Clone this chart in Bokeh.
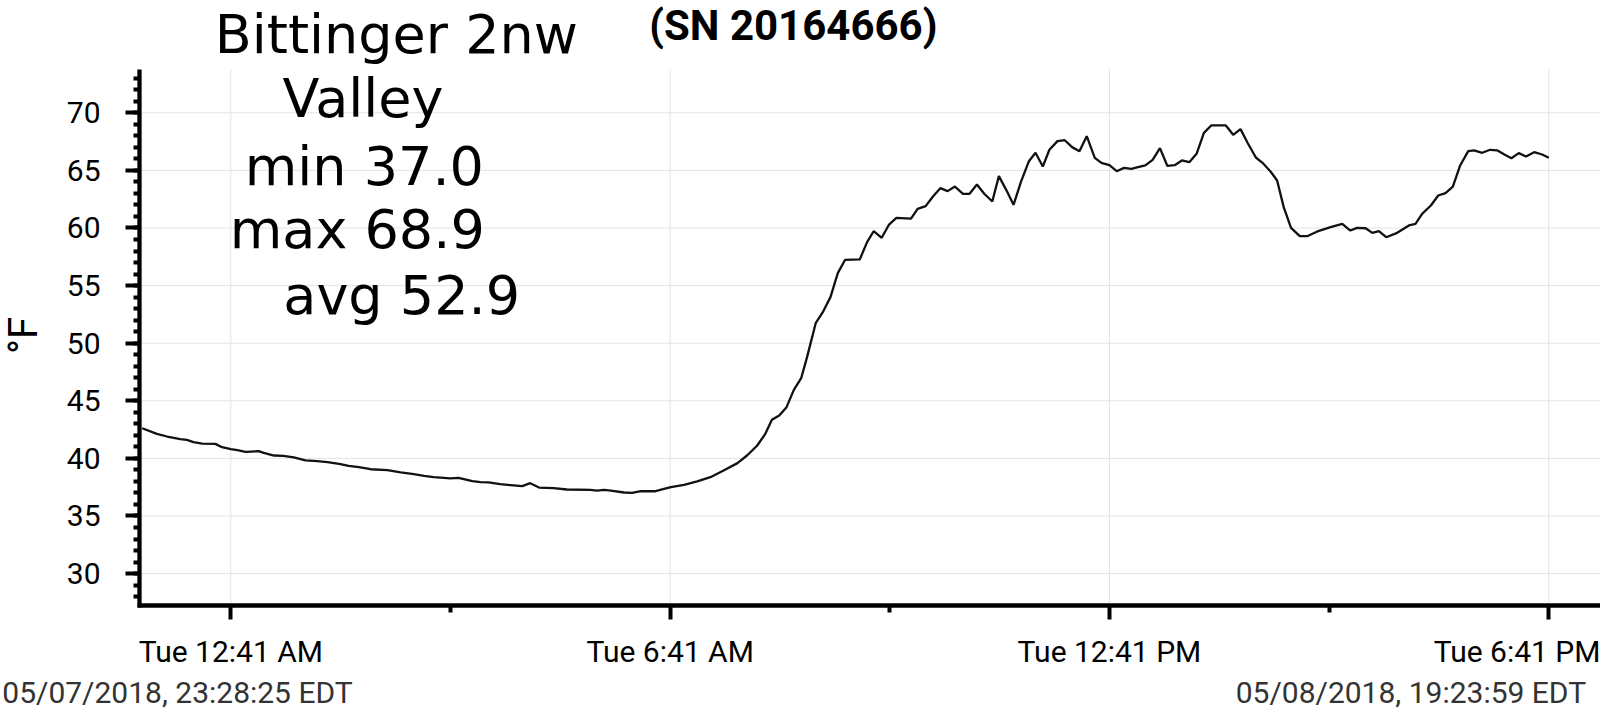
import math
from bokeh.plotting import figure
from bokeh.models import Range1d, FixedTicker, Label
from bokeh.embed import file_html
from bokeh.resources import INLINE

# ---- data (hours relative to "Tue 12:41 AM", temperature in °F) ----
hours = [
    -1.21, -1.01, -0.87, -0.69, -0.60, -0.51, -0.39, -0.21, -0.12, 0.00,
    0.09, 0.20, 0.38, 0.45, 0.59, 0.72, 0.86, 1.02, 1.18, 1.32,
    1.48, 1.61, 1.75, 1.91, 2.14, 2.32, 2.50, 2.64, 2.77, 3.00,
    3.11, 3.30, 3.41, 3.52, 3.68, 3.82, 3.98, 4.09, 4.21, 4.41,
    4.59, 4.91, 5.00, 5.10, 5.19, 5.37, 5.48, 5.60, 5.80, 6.01,
    6.19, 6.37, 6.55, 6.73, 6.92, 7.05, 7.19, 7.30, 7.39, 7.49,
    7.59, 7.69, 7.79, 7.87, 7.99, 8.09, 8.19, 8.29, 8.39, 8.59,
    8.69, 8.78, 8.89, 8.99, 9.09, 9.29, 9.38, 9.49, 9.59, 9.69,
    9.79, 9.89, 10.00, 10.09, 10.19, 10.29, 10.40, 10.49, 10.59, 10.69,
    10.79, 10.90, 10.99, 11.09, 11.18, 11.29, 11.39, 11.49, 11.59, 11.69,
    11.80, 11.89, 12.00, 12.10, 12.20, 12.30, 12.39, 12.49, 12.59, 12.69,
    12.79, 12.89, 12.99, 13.09, 13.19, 13.29, 13.39, 13.49, 13.59, 13.69,
    13.79, 13.89, 14.00, 14.09, 14.20, 14.29, 14.38, 14.48, 14.60, 14.70,
    14.84, 15.02, 15.18, 15.29, 15.38, 15.50, 15.59, 15.68, 15.78, 15.93,
    16.09, 16.18, 16.27, 16.39, 16.49, 16.59, 16.69, 16.79, 16.90, 16.98,
    17.09, 17.20, 17.30, 17.40, 17.49, 17.59, 17.69, 17.80, 17.91, 18.00,
]
temps_f = [
    42.62, 42.13, 41.90, 41.67, 41.61, 41.41, 41.29, 41.26, 40.97, 40.80,
    40.71, 40.57, 40.63, 40.48, 40.25, 40.22, 40.08, 39.82, 39.76, 39.67,
    39.53, 39.35, 39.24, 39.06, 38.98, 38.78, 38.63, 38.49, 38.37, 38.26,
    38.31, 38.02, 37.94, 37.91, 37.76, 37.68, 37.59, 37.85, 37.47, 37.42,
    37.30, 37.27, 37.21, 37.27, 37.21, 37.04, 37.00, 37.15, 37.15, 37.50,
    37.71, 38.00, 38.37, 38.95, 39.59, 40.25, 41.12, 42.13, 43.35, 43.72,
    44.45, 45.95, 46.96, 48.79, 51.77, 52.75, 54.00, 56.08, 57.24, 57.27,
    58.77, 59.72, 59.15, 60.30, 60.88, 60.82, 61.66, 61.90, 62.73, 63.46,
    63.20, 63.60, 62.97, 62.97, 63.78, 62.97, 62.30, 64.50, 63.31, 62.01,
    63.98, 65.80, 66.53, 65.34, 66.79, 67.54, 67.62, 67.02, 66.67, 67.97,
    66.09, 65.66, 65.45, 64.93, 65.22, 65.14, 65.28, 65.43, 65.92, 66.93,
    65.40, 65.45, 65.86, 65.71, 66.44, 68.26, 68.90, 68.90, 68.90, 68.09,
    68.58, 67.36, 66.12, 65.66, 64.90, 64.12, 61.81, 60.01, 59.29, 59.29,
    59.70, 60.07, 60.36, 59.78, 60.01, 59.98, 59.58, 59.73, 59.20, 59.58,
    60.22, 60.36, 61.23, 61.95, 62.82, 63.02, 63.60, 65.43, 66.67, 66.73,
    66.53, 66.79, 66.73, 66.35, 66.06, 66.50, 66.21, 66.58, 66.38, 66.09,
]

x_tick_hours = [0, 6, 12, 18]
x_tick_labels = ["Tue 12:41 AM", "Tue 6:41 AM", "Tue 12:41 PM", "Tue 6:41 PM"]
x_minor_hours = [3, 9, 15]
y_ticks = [30, 35, 40, 45, 50, 55, 60, 65, 70]
y_minor_ticks = list(range(28, 74))

title_lines = ["Bittinger 2nw", "Valley", "min 37.0", "max 68.9", "avg 52.9"]
serial_text = "(SN 20164666)"
start_stamp = "05/07/2018, 23:28:25 EDT"
end_stamp = "05/08/2018, 19:23:59 EDT"
unit_label = "\u00b0F"

# ---- geometry: the frame fills the whole canvas; axes sit at fixed spots ----
W, H = 1600, 719
X_RANGE = (-3.1453, 18.7066)      # hours visible across the canvas
Y_RANGE = (17.335, 79.748)        # °F visible down the canvas
X_AXIS_AT = 27.274                # °F value where the time axis sits
Y_AXIS_AT = -1.2469               # hour where the temperature axis sits
X_BOUNDS = (-1.274, 18.7066)
Y_BOUNDS = (27.10, 73.759)

p = figure(width=W, height=H, output_backend="svg", toolbar_location=None,
           x_range=Range1d(*X_RANGE), y_range=Range1d(*Y_RANGE),
           min_border=0, min_border_left=0, min_border_right=0,
           min_border_top=0, min_border_bottom=0)
p.title.visible = False
p.outline_line_color = None
p.background_fill_color = "white"
p.border_fill_color = "white"
p.xgrid.visible = False
p.ygrid.visible = False

# grid lines drawn from the tick lists
grid_color = "#e3e3e3"
p.segment(x0=x_tick_hours, y0=[Y_BOUNDS[0]] * len(x_tick_hours),
          x1=x_tick_hours, y1=[Y_BOUNDS[1]] * len(x_tick_hours),
          line_color=grid_color, line_width=1)
p.segment(x0=[Y_AXIS_AT] * len(y_ticks), y0=y_ticks,
          x1=[X_BOUNDS[1]] * len(y_ticks), y1=y_ticks,
          line_color=grid_color, line_width=1)

p.line(hours, temps_f, line_color="#111111", line_width=2.3)

xa = p.xaxis[0]
ya = p.yaxis[0]
xa.fixed_location = X_AXIS_AT
ya.fixed_location = Y_AXIS_AT
xa.bounds = X_BOUNDS
ya.bounds = Y_BOUNDS
xa.ticker = FixedTicker(ticks=x_tick_hours, minor_ticks=x_minor_hours)
xa.major_label_overrides = {h: t for h, t in zip(x_tick_hours, x_tick_labels)}
ya.ticker = FixedTicker(ticks=y_ticks, minor_ticks=y_minor_ticks)

for ax in (xa, ya):
    ax.axis_line_width = 4.3
    ax.axis_line_color = "black"
    ax.major_tick_line_width = 4
    ax.minor_tick_line_width = 4
    ax.major_tick_line_color = "black"
    ax.minor_tick_line_color = "black"
    ax.major_tick_in = 0
    ax.minor_tick_in = 0
    ax.major_label_text_font = "Roboto"
    ax.major_label_text_font_size = "30px"
    ax.major_label_text_color = "black"
xa.major_tick_out = 14
xa.minor_tick_out = 7
xa.major_label_standoff = 15
ya.major_tick_out = 14
ya.minor_tick_out = 6
ya.major_label_standoff = 25

BASE_FIX = 0.43  # raise alphabetic-baseline labels by this fraction of the font size


def add_text(text, px, py, font, size_px, style="normal", color="black",
             align="left", angle=0.0):
    # px, py: page pixel coords of the text baseline anchor
    if angle:
        px = px - BASE_FIX * size_px
    else:
        py = py - BASE_FIX * size_px
    p.add_layout(Label(x=px, y=H - py, x_units="screen", y_units="screen",
                       text=text, text_font=font, text_font_size=f"{size_px}px",
                       text_font_style=style, text_color=color,
                       text_align=align, text_baseline="alphabetic",
                       angle=angle))


title_x = [214.2, 282.0, 244.2, 229.2, 282.8]
title_y = [57.0, 120.9, 189.5, 252.7, 318.6]
for t, tx, ty in zip(title_lines, title_x, title_y):
    add_text(t, tx, ty, "DejaVu Sans", 54)

add_text(serial_text, 648.8, 42.7, "Roboto", 42, style="bold")
add_text(unit_label, 40.0, 335.0, "Roboto", 40, align="center", angle=math.pi / 2)
add_text(start_stamp, 1.8, 705, "Roboto", 30, color="#333333")
add_text(end_stamp, 1235.2, 705, "Roboto", 30, color="#333333")

open("out.html", "w").write(file_html(p, INLINE))
